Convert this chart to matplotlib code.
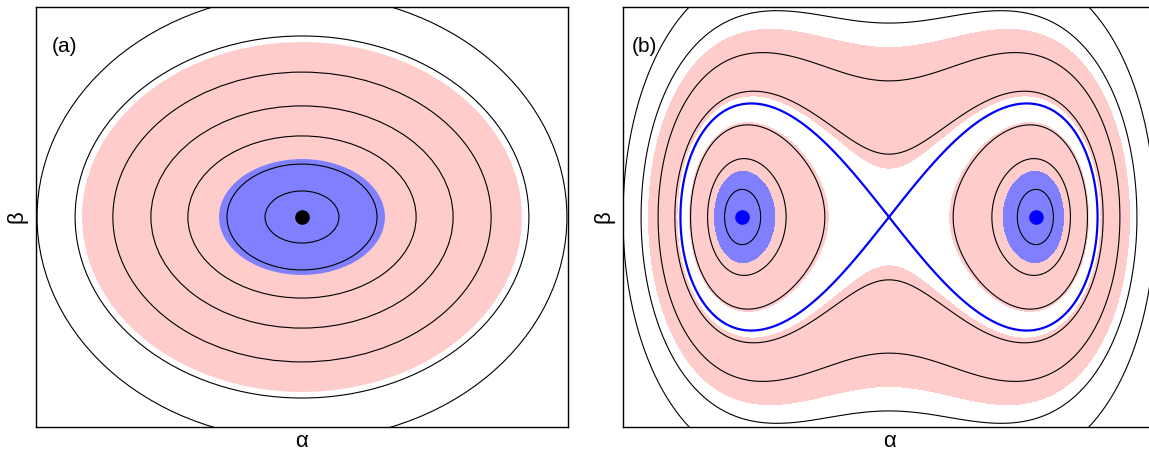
import numpy as np
import matplotlib
matplotlib.use("Agg")
import matplotlib.pyplot as plt
from matplotlib.patches import Ellipse

plt.rcParams['font.family'] = ['Liberation Sans', 'DejaVu Sans']

# ---------------- data ----------------
# Panel (a): elliptic orbits around a single fixed point
a_semi_alpha = [0.139, 0.282, 0.429, 0.568, 0.711, 0.853, 0.996]
a_semi_beta = [0.124, 0.252, 0.386, 0.529, 0.690, 0.862, 1.062]
a_blue_semi = (0.312, 0.276)      # blue filled region (alpha, beta semi-axes)
a_pink_semi = (0.827, 0.833)      # pink filled region
a_fixed_point = (0.0, 0.0)

# Panel (b): double well
#   H = alpha^4 + Bb*beta^4 + Cb*alpha^2*beta^2 - Pb*alpha^2 + Qb*beta^2
Bb, Cb, Pb, Qb = 0.023, 0.269, 0.6147, 0.239
b_outer_alpha = [1.0, 0.932, 0.868, 0.805]     # open (peanut) contours, alpha-intercepts
b_inner_alpha = [0.746, 0.682, 0.618]          # closed contours in each well
b_separatrix_level = 0.0
b_blue_alpha = 0.656                           # blue filled region in wells
b_pink_well_alpha = 0.75                       # pink filled region in wells
b_pink_band_alpha = (0.797, 0.904)             # pink band outside separatrix
b_fixed_alpha = [-0.554, 0.554]

panel_labels = ['(a)', '(b)']
label_x = [0.030, 0.017]
x_label = 'α'
y_label = 'β'

PINK = '#ffcccc'
BLUE_FILL = '#8080ff'
BLUE = '#0000ff'


def Hb(al, be):
    return al**4 + Bb * be**4 + Cb * al**2 * be**2 - Pb * al**2 + Qb * be**2


W, Hpx = 1149, 451
fig = plt.figure(figsize=(W / 100, Hpx / 100), dpi=100)
axw = 532 / W
axh = 420 / Hpx
ax_a = fig.add_axes([36 / W, (Hpx - 427) / Hpx, axw, axh])
ax_b = fig.add_axes([623 / W, (Hpx - 427) / Hpx, axw, axh])

# ---------------- panel (a) ----------------
ax_a.add_patch(Ellipse(a_fixed_point, 2 * a_pink_semi[0], 2 * a_pink_semi[1],
                       facecolor=PINK, edgecolor='none', zorder=1))
ax_a.add_patch(Ellipse(a_fixed_point, 2 * a_blue_semi[0], 2 * a_blue_semi[1],
                       facecolor=BLUE_FILL, edgecolor='none', zorder=2))
for sa, sb in zip(a_semi_alpha, a_semi_beta):
    ax_a.add_patch(Ellipse(a_fixed_point, 2 * sa, 2 * sb, facecolor='none',
                           edgecolor='black', linewidth=0.8, zorder=3))
ax_a.plot([a_fixed_point[0]], [a_fixed_point[1]], 'o', color='black', ms=9.5, zorder=4)

# ---------------- panel (b) ----------------
g = np.linspace(-1.2, 1.2, 1201)
AL, BE = np.meshgrid(g, g)
Zb = Hb(AL, BE)
zmin = Zb.min() - 1
ax_b.contourf(AL, BE, Zb, levels=[zmin, Hb(b_pink_well_alpha, 0)], colors=[PINK], zorder=1)
ax_b.contourf(AL, BE, Zb, levels=[Hb(b_pink_band_alpha[0], 0), Hb(b_pink_band_alpha[1], 0)],
              colors=[PINK], zorder=1)
ax_b.contourf(AL, BE, Zb, levels=[zmin, Hb(b_blue_alpha, 0)], colors=[BLUE_FILL], zorder=2)
lv = sorted(list(Hb(np.array(b_outer_alpha), 0)) + list(Hb(np.array(b_inner_alpha), 0)))
ax_b.contour(AL, BE, Zb, levels=lv, colors='black', linewidths=0.8,
             linestyles='solid', zorder=3)
ax_b.contour(AL, BE, Zb, levels=[b_separatrix_level], colors=BLUE, linewidths=1.6,
             linestyles='solid', zorder=4)
ax_b.plot(b_fixed_alpha, [0] * len(b_fixed_alpha), 'o', color=BLUE, ms=9.5, zorder=5)

for ax, lab, lx in zip([ax_a, ax_b], panel_labels, label_x):
    ax.set_xlim(-1, 1)
    ax.set_ylim(-1, 1)
    ax.set_xticks([])
    ax.set_yticks([])
    for s in ax.spines.values():
        s.set_linewidth(1.0)
        s.set_zorder(10)
    ax.set_xlabel(x_label, fontsize=16, labelpad=3)
    ax.set_ylabel(y_label, fontsize=16, labelpad=6)
    ax.text(lx, 0.905, lab, transform=ax.transAxes, fontsize=15,
            ha='left', va='center', zorder=11)

fig.savefig('out.png', dpi=100)
